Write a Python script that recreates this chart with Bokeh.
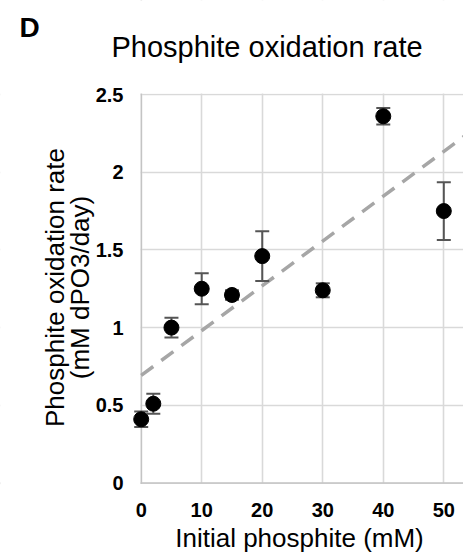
import numpy as np
from bokeh.plotting import figure
from bokeh.models import Range1d, FixedTicker, Span, BoxAnnotation, Label
from bokeh.embed import file_html
from bokeh.resources import INLINE

# ---- data ----
initial_phosphite = [0, 2, 5, 10, 15, 20, 30, 40, 50]
oxidation_rate = [0.41, 0.51, 1.00, 1.25, 1.21, 1.46, 1.24, 2.36, 1.75]
rate_error = [0.05, 0.064, 0.063, 0.10, 0.03, 0.16, 0.045, 0.053, 0.186]
x_ticks = [0, 10, 20, 30, 40, 50]
y_ticks = [0, 0.5, 1, 1.5, 2, 2.5]
y_tick_labels = ["0", "0.5", "1", "1.5", "2", "2.5"]
panel_letter = "D"
chart_title = "Phosphite oxidation rate"
x_label = "Initial phosphite (mM)"
y_label = "Phosphite oxidation rate\n(mM dPO3/day)"

FONT = "Liberation Sans"
W, H = 463, 556
# the frame covers the whole canvas; the visible chart area is 0..53 x 0..2.5
PX_X0, PX_PER_X = 140.7, 6.052     # canvas x of x=0, pixels per unit
PX_Y0, PX_PER_Y = 482.5, 155.4     # canvas y of y=0, pixels per unit
X_START, X_END = -PX_X0 / PX_PER_X, (W - PX_X0) / PX_PER_X
Y_START, Y_END = -(H - PX_Y0) / PX_PER_Y, PX_Y0 / PX_PER_Y

p = figure(width=W, height=H, output_backend="svg", toolbar_location=None,
           x_range=Range1d(X_START, X_END), y_range=Range1d(Y_START, Y_END),
           min_border=0, min_border_left=0, min_border_right=0,
           min_border_top=0, min_border_bottom=0)
p.outline_line_color = None
p.background_fill_color = "white"
p.border_fill_color = "white"

# axes: tick labels only, pulled in next to the visible chart area
for ax in (p.xaxis[0], p.yaxis[0]):
    ax.axis_line_color = None
    ax.major_tick_line_color = None
    ax.minor_tick_line_color = None
    ax.major_tick_in = 0
    ax.major_tick_out = 0
    ax.minor_tick_in = 0
    ax.minor_tick_out = 0
    ax.major_label_text_font = FONT
    ax.major_label_text_font_size = "20px"
    ax.major_label_text_font_style = "bold"
    ax.major_label_text_color = "black"
p.xaxis[0].ticker = FixedTicker(ticks=x_ticks)
p.yaxis[0].ticker = FixedTicker(ticks=y_ticks)
p.yaxis[0].major_label_overrides = {t: l for t, l in zip(y_ticks, y_tick_labels)}
p.yaxis[0].major_label_standoff = -123
p.xaxis[0].major_label_standoff = -54

# grid
p.xgrid[0].ticker = FixedTicker(ticks=x_ticks)
p.ygrid[0].ticker = FixedTicker(ticks=y_ticks)
for g in (p.xgrid[0], p.ygrid[0]):
    g.grid_line_color = "#d9d9d9"
    g.grid_line_width = 1.6

# axis lines at the origin
p.add_layout(Span(location=0, dimension="height", line_color="#c4c4c4",
                  line_width=1.6, level="underlay"))
p.add_layout(Span(location=0, dimension="width", line_color="#c4c4c4",
                  line_width=1.6, level="underlay"))
# white masks outside the chart area (left of 0, above 2.5, below 0)
p.add_layout(BoxAnnotation(right=-0.14, fill_color="white", fill_alpha=1.0,
                           line_color=None, level="underlay"))
p.add_layout(BoxAnnotation(bottom=y_ticks[-1] + 0.006, fill_color="white",
                           fill_alpha=1.0, line_color=None, level="underlay"))
p.add_layout(BoxAnnotation(top=-0.006, fill_color="white", fill_alpha=1.0,
                           line_color=None, level="underlay"))

# texts (screen units = pixels from the frame's bottom-left = canvas)
p.add_layout(Label(text=panel_letter, x=19, y=H - 27, x_units="screen",
                   y_units="screen", text_font=FONT, text_font_size="28px",
                   text_font_style="bold", text_color="black",
                   text_baseline="alphabetic", text_align="left"))
p.add_layout(Label(text=chart_title, x=111, y=H - 46, x_units="screen",
                   y_units="screen", text_font=FONT, text_font_size="29px",
                   text_color="black", text_baseline="alphabetic",
                   text_align="left"))
p.add_layout(Label(text=x_label, x=299, y=H - 537, x_units="screen",
                   y_units="screen", text_font=FONT, text_font_size="26px",
                   text_color="black", text_baseline="alphabetic",
                   text_align="center"))
p.add_layout(Label(text=y_label, x=67, y=H - 287, x_units="screen",
                   y_units="screen", angle=np.pi / 2, text_font=FONT,
                   text_font_size="26px", text_color="black",
                   text_baseline="middle", text_align="center",
                   text_line_height=0.85))

# linear trend line (least squares fit to the data)
slope, intercept = np.polyfit(initial_phosphite, oxidation_rate, 1)
trend_x = np.array([0.0, X_END + 2])
p.line(trend_x, intercept + slope * trend_x, line_color="#a6a6a6",
       line_width=3.5, line_dash="15 10")

# error bars
xs = np.array(initial_phosphite, dtype=float)
ys = np.array(oxidation_rate)
es = np.array(rate_error)
p.segment(x0=xs, y0=ys - es, x1=xs, y1=ys + es, line_color="#555555",
          line_width=2)
p.scatter(np.concatenate([xs, xs]), np.concatenate([ys - es, ys + es]),
          marker="dash", size=14, line_color="#555555", line_width=2)

# points
p.scatter(xs, ys, marker="circle", size=15, fill_color="black",
          line_color="black")

open("out.html", "w").write(file_html(p, INLINE))
